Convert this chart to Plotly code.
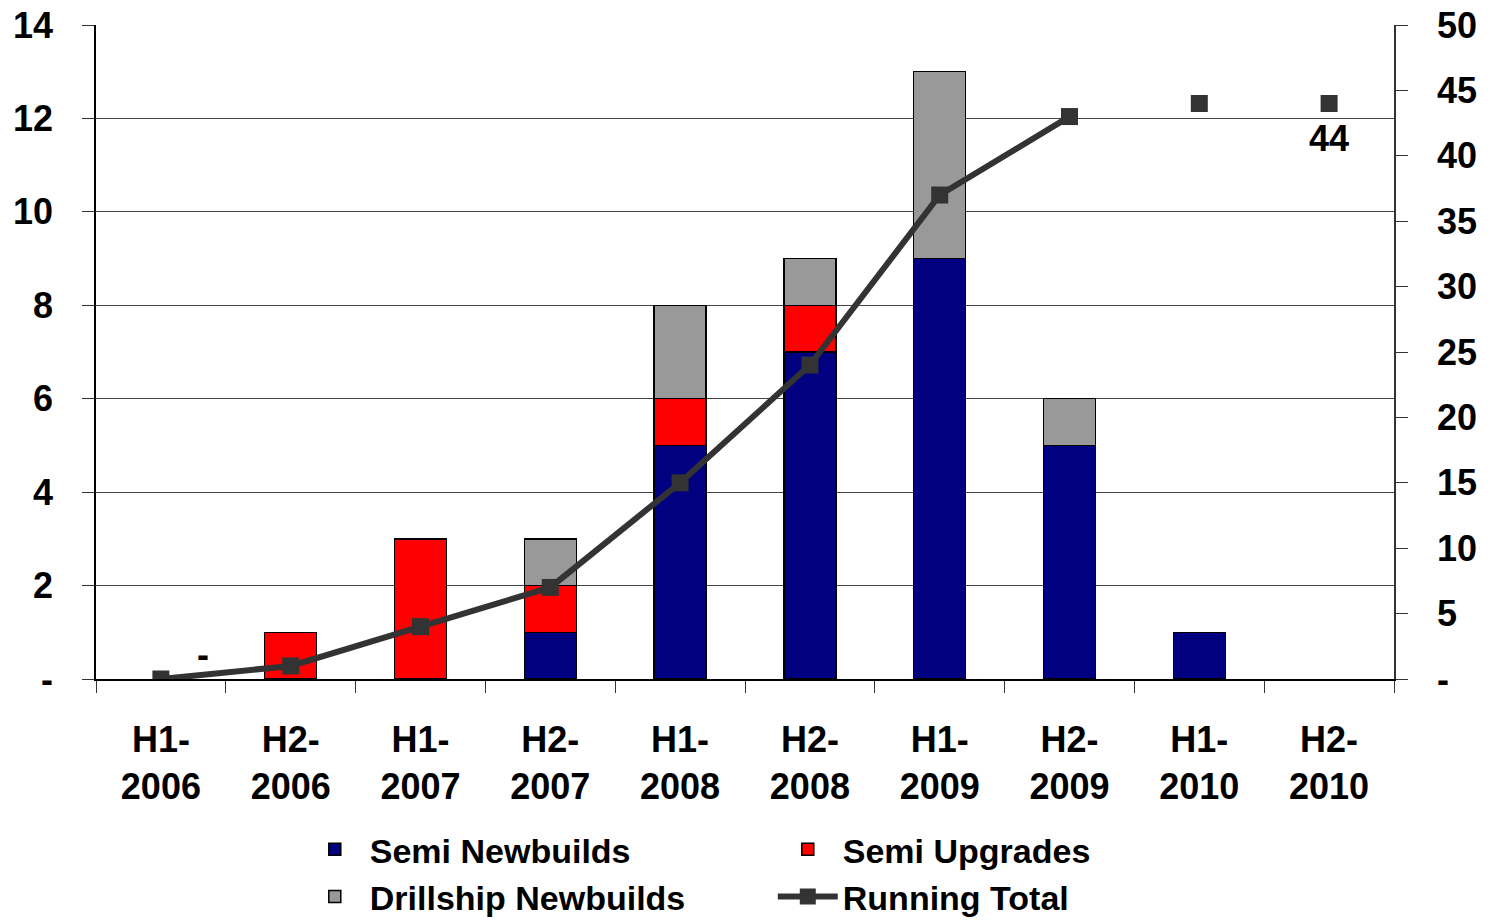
import plotly.graph_objects as go

categories = ["H1-2006", "H2-2006", "H1-2007", "H2-2007", "H1-2008",
              "H2-2008", "H1-2009", "H2-2009", "H1-2010", "H2-2010"]
tick_labels = ["H1-<br>2006", "H2-<br>2006", "H1-<br>2007", "H2-<br>2007", "H1-<br>2008",
               "H2-<br>2008", "H1-<br>2009", "H2-<br>2009", "H1-<br>2010", "H2-<br>2010"]
# None = no bar drawn for that period
semi_newbuilds = [None, None, None, 1, 5, 7, 9, 5, 1, None]
semi_upgrades = [None, 1, 3, 1, 1, 1, None, None, None, None]
drillship_newbuilds = [None, None, None, 1, 2, 1, 4, 1, None, None]
running_total_line = [0, 1, 4, 7, 15, 24, 37, 43, None, None]
running_total_pts = [None, None, None, None, None, None, None, None, 44, 44]

left_ticks = [0, 2, 4, 6, 8, 10, 12, 14]
left_text = ["-", "2", "4", "6", "8", "10", "12", "14"]
right_ticks = [0, 5, 10, 15, 20, 25, 30, 35, 40, 45, 50]
right_text = ["-", "5", "10", "15", "20", "25", "30", "35", "40", "45", "50"]

FONT = "Liberation Sans, Arial, sans-serif"
bold = dict(family=FONT, size=36, color="black", weight="bold")

fig = go.Figure()
for name, vals, col in [("Semi Newbuilds", semi_newbuilds, "#000080"),
                        ("Semi Upgrades", semi_upgrades, "#FF0000"),
                        ("Drillship Newbuilds", drillship_newbuilds, "#999999")]:
    fig.add_trace(go.Bar(x=categories, y=vals, name=name,
                         marker=dict(color=col, line=dict(color="black", width=1.5))))

fig.add_trace(go.Scatter(x=categories, y=running_total_line, name="Running Total",
                         mode="lines+markers", yaxis="y2",
                         line=dict(color="#333333", width=6),
                         marker=dict(symbol="square", size=17, color="#333333")))
fig.add_trace(go.Scatter(x=categories, y=running_total_pts, showlegend=False,
                         mode="markers", yaxis="y2",
                         marker=dict(symbol="square", size=17, color="#333333")))

fig.add_annotation(x=categories[0], y=running_total_line[0], yref="y2", text="-",
                   showarrow=False, xshift=42, yshift=25, font=bold)
fig.add_annotation(x=categories[9], y=running_total_pts[9], yref="y2", text="44",
                   showarrow=False, yshift=-35, font=bold)

fig.update_layout(
    width=1492, height=920,
    margin=dict(l=96, r=98, t=25, b=241, autoexpand=False),
    paper_bgcolor="white", plot_bgcolor="white",
    barmode="stack", bargap=0.6,
    font=bold,
    showlegend=True,
    legend=dict(orientation="h", x=0.157, xanchor="left",
                yref="container", y=0.108, yanchor="top",
                entrywidth=398, entrywidthmode="pixels", traceorder="normal",
                font=dict(family=FONT, size=34, color="black", weight="bold"),
                itemwidth=60, tracegroupgap=0),
    xaxis=dict(type="category", range=[-0.5, 9.5], tickmode="array",
               tickvals=categories, ticktext=tick_labels, tickson="boundaries",
               ticks="outside", ticklen=12, tickcolor="#333333",
               showline=True, linecolor="black", linewidth=1.5,
               showgrid=False, ticklabelstandoff=28, tickfont=bold, automargin=False),
    yaxis=dict(range=[0, 14], tickvals=left_ticks, ticktext=left_text,
               showgrid=True, gridcolor="#444444", gridwidth=1,
               showline=True, linecolor="black", linewidth=1.5,
               ticks="outside", ticklen=12, tickcolor="#333333",
               ticklabelstandoff=22, ticklabeloverflow="allow",
               tickfont=bold, zeroline=False, automargin=False),
    yaxis2=dict(range=[0, 50], tickvals=right_ticks, ticktext=right_text,
                overlaying="y", side="right", showgrid=False,
                showline=True, linecolor="#333333", linewidth=1.5,
                ticks="outside", ticklen=12, tickcolor="#333333",
                ticklabelstandoff=22, ticklabeloverflow="allow",
                tickfont=bold, zeroline=False, automargin=False),
)

fig.write_html("out.html", config={"displayModeBar": False},
               post_script="document.body.style.margin='0';document.body.style.overflow='hidden';")
